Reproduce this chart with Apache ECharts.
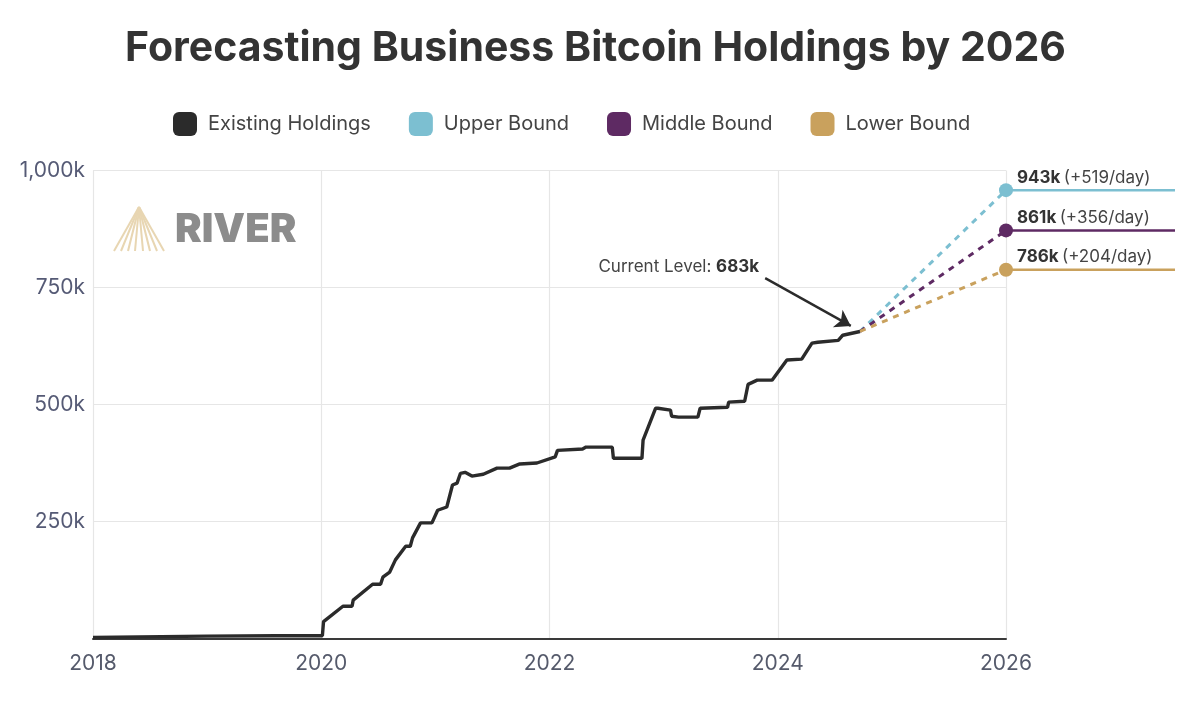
<!DOCTYPE html>
<html>
<head>
<meta charset="utf-8">
<script src="https://cdn.jsdelivr.net/npm/echarts@6/dist/echarts.min.js"></script>
<style>html,body{margin:0;padding:0;background:#fff}#c{width:1200px;height:720px}</style>
</head>
<body>
<div id="c"></div>
<script>
// ---- data (thousand BTC) ----
const existingYears = [2018.0, 2018.6, 2019.0, 2019.6, 2020.01, 2020.02, 2020.19, 2020.27, 2020.28, 2020.45, 2020.52, 2020.54, 2020.60, 2020.65, 2020.74, 2020.78, 2020.80, 2020.87, 2020.97, 2021.02, 2021.10, 2021.15, 2021.19, 2021.22, 2021.26, 2021.32, 2021.42, 2021.54, 2021.65, 2021.74, 2021.89, 2022.05, 2022.07, 2022.29, 2022.32, 2022.55, 2022.56, 2022.81, 2022.82, 2022.93, 2022.95, 2023.06, 2023.07, 2023.13, 2023.30, 2023.32, 2023.56, 2023.57, 2023.71, 2023.74, 2023.82, 2023.95, 2024.08, 2024.21, 2024.30, 2024.35, 2024.53, 2024.57, 2024.72];
const existingValues = [2, 4, 5, 6, 6, 36, 69, 69, 82, 116, 116, 131, 142, 168, 197, 197, 215, 247, 247, 274, 281, 328, 332, 353, 355, 347, 351, 364, 364, 373, 375, 388, 402, 405, 409, 409, 385, 385, 424, 492, 492, 488, 475, 473, 473, 492, 494, 505, 507, 543, 552, 552, 595, 597, 631, 633, 637, 648, 656];
const boundNames = ['Upper Bound', 'Middle Bound', 'Lower Bound'];
const boundColors = ['#7cbfd1', '#5e2a63', '#c9a15d'];
const forecastStartYear = 2024.72;
const forecastStartValue = 656;
const forecastEndYear = 2026;
const boundEndValues = [958, 872, 788];
const boundLabels = ['943k', '861k', '786k'];
const boundRates = ['(+519/day)', '(+356/day)', '(+204/day)'];
const extendEndYear = 2027.5;
const currentLevelText = '683k';
const xTicks = [2018, 2020, 2022, 2024, 2026];
const yTicks = [0, 250, 500, 750, 1000];

const chart = echarts.init(document.getElementById('c'), null, {renderer: 'canvas'});
const FONT = 'Inter, "Noto Sans", sans-serif';

const existing = existingYears.map((y, i) => [y, existingValues[i]]);

const series = [{
  name: 'Existing Holdings', type: 'line', xAxisIndex: 0, yAxisIndex: 0,
  data: existing, showSymbol: false, symbol: 'none',
  lineStyle: {color: '#2b2b2b', width: 3.4}, itemStyle: {color: '#2b2b2b'}, z: 5,
  markLine: {
    silent: true, symbol: ['none', 'arrow'], symbolSize: 15,
    lineStyle: {color: '#2b2b2b', width: 2.4, type: 'solid'},
    label: {show: false},
    data: [[{coord: [2023.89, 770]}, {coord: [2024.64, 668]}]]
  },
  markPoint: {
    silent: true, symbol: 'circle', symbolSize: 0,
    data: [{coord: [2023.88, 770], label: {
      show: true, position: 'left', offset: [0, -11],
      formatter: 'Current Level: {b|' + currentLevelText + '}',
      fontFamily: FONT, fontSize: 17, color: '#444',
      rich: {b: {fontFamily: FONT, fontSize: 17, fontWeight: 'bold', color: '#333'}}
    }}]
  }
}];

boundNames.forEach((n, i) => {
  series.push({
    name: n, type: 'line', xAxisIndex: 0, yAxisIndex: 0,
    data: [
      {value: [forecastStartYear, forecastStartValue], symbol: 'none'},
      {value: [forecastEndYear, boundEndValues[i]], symbol: 'circle', symbolSize: 14,
        label: {show: true, position: [18, -14], align: 'left', verticalAlign: 'top',
          formatter: '{b|' + boundLabels[i] + '} {n|' + boundRates[i] + '}',
          rich: {
            b: {fontFamily: FONT, fontSize: 17, fontWeight: 'bold', color: '#333'},
            n: {fontFamily: FONT, fontSize: 17, color: '#444'}
          }}}
    ],
    showSymbol: true,
    lineStyle: {color: boundColors[i], width: 3, type: [6, 6]},
    itemStyle: {color: boundColors[i]}, z: 4
  });
  series.push({
    name: n + ' level', type: 'line', xAxisIndex: 1, yAxisIndex: 1,
    data: [[forecastEndYear, boundEndValues[i]], [extendEndYear, boundEndValues[i]]],
    symbol: 'none', lineStyle: {color: boundColors[i], width: 2.5}, z: 3
  });
});

// RIVER logo rays
const apex = [139, 207];
const rays = [];
[114, 121, 128, 135, 143, 150, 157, 164].forEach(bx => {
  rays.push({type: 'line', shape: {x1: apex[0], y1: apex[1], x2: bx, y2: 251},
    style: {stroke: '#e8d6b2', lineWidth: 2}, silent: true});
});

chart.setOption({
  backgroundColor: '#ffffff',
  animation: false,
  title: {
    text: 'Forecasting Business Bitcoin Holdings by 2026',
    left: 120, top: 23,
    textStyle: {fontFamily: FONT, fontSize: 41, fontWeight: 'bold', color: '#333333'}
  },
  legend: {
    top: 107, left: 168,
    data: ['Existing Holdings', 'Upper Bound', 'Middle Bound', 'Lower Bound'],
    icon: 'roundRect', itemWidth: 24, itemHeight: 24, itemGap: 38,
    textStyle: {fontFamily: FONT, fontSize: 20, color: '#444', padding: [0, 0, 0, 6]},
    selectedMode: false
  },
  grid: [
    {left: 93, right: 194, top: 170.5, bottom: 81.5, containLabel: false},
    {left: 1006, right: 25, top: 170.5, bottom: 81.5, containLabel: false}
  ],
  xAxis: [{
    type: 'value', min: 2018, max: 2026, interval: 2, gridIndex: 0,
    axisLine: {show: true, onZero: false, lineStyle: {color: '#3a3a3a', width: 2}},
    axisTick: {show: false},
    splitLine: {show: true, lineStyle: {color: '#e6e6e6', width: 1.2}},
    axisLabel: {fontFamily: FONT, fontSize: 21, color: '#555a6b', margin: 15,
      formatter: v => String(v)}
  }, {
    type: 'value', min: forecastEndYear, max: extendEndYear, gridIndex: 1, show: false
  }],
  yAxis: [{
    type: 'value', min: 0, max: 1000, interval: 250, gridIndex: 0,
    axisLine: {show: false}, axisTick: {show: false},
    splitLine: {show: true, lineStyle: {color: '#e6e6e6', width: 1.2}},
    axisLabel: {fontFamily: FONT, fontSize: 21, color: '#555a75', margin: 8,
      formatter: v => v === 0 ? '' : (v === 1000 ? '1,000k' : v + 'k')}
  }, {
    type: 'value', min: 0, max: 1000, gridIndex: 1, show: false
  }],
  graphic: [
    {type: 'group', children: rays, z: 1, silent: true},
    {type: 'text', left: 175, top: 210, z: 1, silent: true,
      style: {text: 'RIVER', fontFamily: FONT, fontSize: 40, fontWeight: 900, fill: '#8c8c8c'}}
  ],
  series: series
});
</script>
</body>
</html>
